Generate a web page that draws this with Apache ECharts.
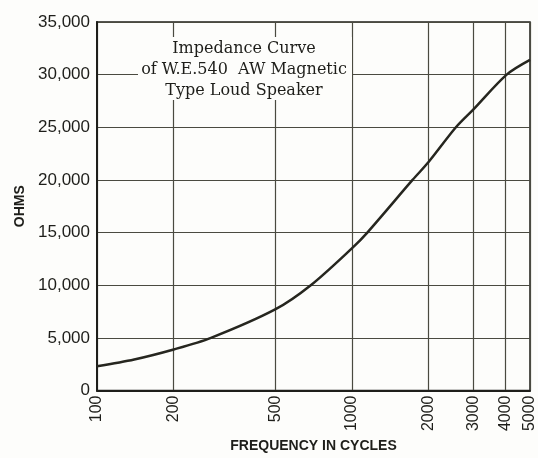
<!DOCTYPE html>
<html>
<head>
<meta charset="utf-8">
<script src="https://cdn.jsdelivr.net/npm/echarts@6/dist/echarts.min.js"></script>
<style>
html,body{margin:0;padding:0;background:#fdfdfb;}
#c{width:538px;height:458px;}
</style>
</head>
<body>
<div id="c"></div>
<script>
// Data
const freqs = [100, 140, 200, 280, 500, 690, 1000, 1150, 1730, 2000, 2560, 3000, 4050, 5000];
const ohms  = [2300, 2950, 3900, 5000, 7700, 10000, 13500, 15000, 20000, 21700, 25000, 26700, 30000, 31400];
const xTicks = [100, 200, 500, 1000, 2000, 3000, 4000, 5000];
const yTicks = [0, 5000, 10000, 15000, 20000, 25000, 30000, 35000];
const titleLines = ['Impedance Curve', 'of W.E.540  AW Magnetic', 'Type Loud Speaker'];

const chart = echarts.init(document.getElementById('c'));
const ink = '#1e1e1a';
const gridInk = '#4a4a40';
chart.setOption({
  animation: false,
  backgroundColor: '#fdfdfb',
  grid: {left: 97, right: 3, top: 22, bottom: 65, show: true, borderColor: ink, borderWidth: 1.5},
  xAxis: {
    type: 'log', logBase: 10, min: 100, max: 5000,
    name: 'FREQUENCY IN CYCLES', nameLocation: 'middle', nameGap: 48,
    nameTextStyle: {fontFamily: 'Liberation Sans', fontSize: 14, color: ink, fontWeight: 'bold'},
    axisLine: {show: true, lineStyle: {color: ink, width: 2}},
    axisTick: {show: false, customValues: xTicks},
    axisLabel: {customValues: xTicks, rotate: 90, fontFamily: 'Liberation Sans', fontSize: 16, color: ink, margin: 5,
      formatter: v => String(v)},
    splitLine: {show: true, lineStyle: {color: gridInk, width: 1.2}},
    minorSplitLine: {show: false}
  },
  yAxis: {
    type: 'value', min: yTicks[0], max: yTicks[yTicks.length - 1], interval: 5000,
    name: 'OHMS', nameLocation: 'middle', nameGap: 68, nameRotate: 90,
    nameTextStyle: {fontFamily: 'Liberation Sans', fontSize: 14, color: ink, fontWeight: 'bold'},
    axisLine: {show: true, lineStyle: {color: ink, width: 2}},
    axisTick: {show: false},
    axisLabel: {fontFamily: 'Liberation Sans', fontSize: 17, color: ink, margin: 7,
      formatter: v => v.toLocaleString('en-US')},
    splitLine: {show: true, lineStyle: {color: gridInk, width: 1.2}}
  },
  graphic: [
    {type: 'rect', shape: {x: 138, y: 37, width: 214, height: 63}, style: {fill: '#fdfdfb'}, z: 10},
    {type: 'text', x: 244, y: 38, z: 11,
     style: {text: titleLines.join('\n'), align: 'center', verticalAlign: 'top',
       font: '16px "DejaVu Serif"', fill: ink, lineHeight: 21}}
  ],
  series: [{
    type: 'line', data: freqs.map((f, i) => [f, ohms[i]]),
    smooth: 0.3, showSymbol: false,
    lineStyle: {color: '#26261f', width: 2.5}
  }]
});
</script>
</body>
</html>
